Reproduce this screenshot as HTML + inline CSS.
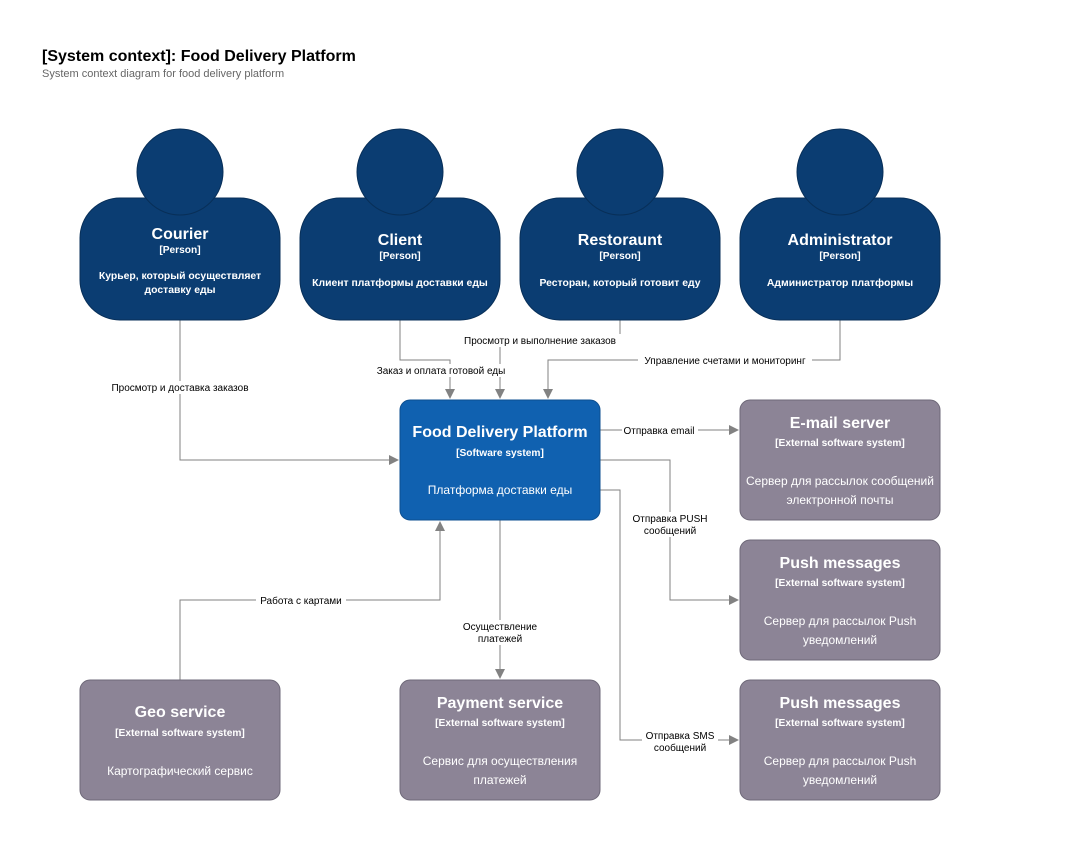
<!DOCTYPE html>
<html><head><meta charset="utf-8"><style>
body{margin:0;background:#fff;}
svg{display:block;font-family:"Liberation Sans",Arial,sans-serif;}
.w{fill:#fff;text-anchor:middle}
.t{font-size:16px;font-weight:bold}
.s{font-size:11px;font-weight:bold}
.x{font-size:10.2px;font-weight:bold}
.d{font-size:10.4px;font-weight:bold}
.l{font-size:10px;fill:#000;text-anchor:middle}
.lb{fill:#fff}
.c{fill:none;stroke:#828282;stroke-width:1}
</style></head><body>
<svg width="1080" height="841" viewBox="0 0 1080 841">
<defs><marker id="a" markerWidth="10" markerHeight="10" refX="9" refY="5" orient="auto" markerUnits="userSpaceOnUse"><path d="M0,0 L10,5 L0,10 z" fill="#828282"/></marker></defs>
<text x="42" y="61" font-size="16" font-weight="bold" fill="#000">[System context]: Food Delivery Platform</text>
<text x="42" y="77" font-size="11" fill="#666">System context diagram for food delivery platform</text>

<polyline class="c" points="180,320 180,460 398,460" marker-end="url(#a)"/>
<polyline class="c" points="400,320 400,360 450,360 450,398" marker-end="url(#a)"/>
<polyline class="c" points="620,320 620,340 500,340 500,398" marker-end="url(#a)"/>
<polyline class="c" points="840,320 840,360 548,360 548,398" marker-end="url(#a)"/>
<polyline class="c" points="600,430 738,430" marker-end="url(#a)"/>
<polyline class="c" points="600,460 670,460 670,600 738,600" marker-end="url(#a)"/>
<polyline class="c" points="600,490 620,490 620,740 738,740" marker-end="url(#a)"/>
<polyline class="c" points="500,520 500,678" marker-end="url(#a)"/>
<polyline class="c" points="180,680 180,600 440,600 440,522" marker-end="url(#a)"/>

<g class="l">
<rect class="lb" x="106" y="381" width="148" height="13"/><text x="180" y="391">Просмотр и доставка заказов</text>
<rect class="lb" x="372" y="364" width="140" height="13"/><text x="441" y="374">Заказ и оплата готовой еды</text>
<rect class="lb" x="458" y="334" width="164" height="13"/><text x="540" y="344">Просмотр и выполнение заказов</text>
<rect class="lb" x="638" y="354" width="174" height="13"/><text x="725" y="364">Управление счетами и мониторинг</text>
<rect class="lb" x="622" y="424" width="76" height="13"/><text x="659" y="434">Отправка email</text>
<rect class="lb" x="630" y="512" width="80" height="25"/><text x="670" y="522">Отправка PUSH</text><text x="670" y="534">сообщений</text>
<rect class="lb" x="642" y="729" width="76" height="25"/><text x="680" y="739">Отправка SMS</text><text x="680" y="751">сообщений</text>
<rect class="lb" x="458" y="620" width="84" height="25"/><text x="500" y="630">Осуществление</text><text x="500" y="642">платежей</text>
<rect class="lb" x="256" y="594" width="90" height="13"/><text x="301" y="604">Работа с картами</text>
</g>

<g fill="#0B3D72" stroke="#082f58">
<rect x="80" y="198" width="200" height="122" rx="40"/><circle cx="180" cy="172" r="43"/>
<rect x="300" y="198" width="200" height="122" rx="40"/><circle cx="400" cy="172" r="43"/>
<rect x="520" y="198" width="200" height="122" rx="40"/><circle cx="620" cy="172" r="43"/>
<rect x="740" y="198" width="200" height="122" rx="40"/><circle cx="840" cy="172" r="43"/>
</g>
<g class="w">
<text class="t" x="180" y="239">Courier</text><text class="x" x="180" y="253">[Person]</text>
<text class="d" x="180" y="279">Курьер, который осуществляет</text><text class="d" x="180" y="293">доставку еды</text>
<text class="t" x="400" y="245">Client</text><text class="x" x="400" y="259">[Person]</text>
<text class="d" x="400" y="286">Клиент платформы доставки еды</text>
<text class="t" x="620" y="245">Restoraunt</text><text class="x" x="620" y="259">[Person]</text>
<text class="d" x="620" y="286">Ресторан, который готовит еду</text>
<text class="t" x="840" y="245">Administrator</text><text class="x" x="840" y="259">[Person]</text>
<text class="d" x="840" y="286">Администратор платформы</text>
</g>

<rect x="400" y="400" width="200" height="120" rx="10" fill="#1061B0" stroke="#0d4f90"/>
<g class="w">
<text class="t" x="500" y="437">Food Delivery Platform</text>
<text class="x" x="500" y="456">[Software system]</text>
<text x="500" y="494" font-size="12">Платформа доставки еды</text>
</g>

<g fill="#8C8496" stroke="#6e6878">
<rect x="740" y="400" width="200" height="120" rx="10"/>
<rect x="740" y="540" width="200" height="120" rx="10"/>
<rect x="740" y="680" width="200" height="120" rx="10"/>
<rect x="80" y="680" width="200" height="120" rx="10"/>
<rect x="400" y="680" width="200" height="120" rx="10"/>
</g>
<g class="w">
<text class="t" x="840" y="428">E-mail server</text><text class="x" x="840" y="446">[External software system]</text>
<text x="840" y="485" font-size="12">Сервер для рассылок сообщений</text><text x="840" y="504" font-size="12">электронной почты</text>
<text class="t" x="840" y="568">Push messages</text><text class="x" x="840" y="586">[External software system]</text>
<text x="840" y="625" font-size="12">Сервер для рассылок Push</text><text x="840" y="644" font-size="12">уведомлений</text>
<text class="t" x="840" y="708">Push messages</text><text class="x" x="840" y="726">[External software system]</text>
<text x="840" y="765" font-size="12">Сервер для рассылок Push</text><text x="840" y="784" font-size="12">уведомлений</text>
<text class="t" x="180" y="717">Geo service</text><text class="x" x="180" y="736">[External software system]</text>
<text x="180" y="775" font-size="12">Картографический сервис</text>
<text class="t" x="500" y="708">Payment service</text><text class="x" x="500" y="726">[External software system]</text>
<text x="500" y="765" font-size="12">Сервис для осуществления</text><text x="500" y="784" font-size="12">платежей</text>
</g>
</svg>
</body></html>
